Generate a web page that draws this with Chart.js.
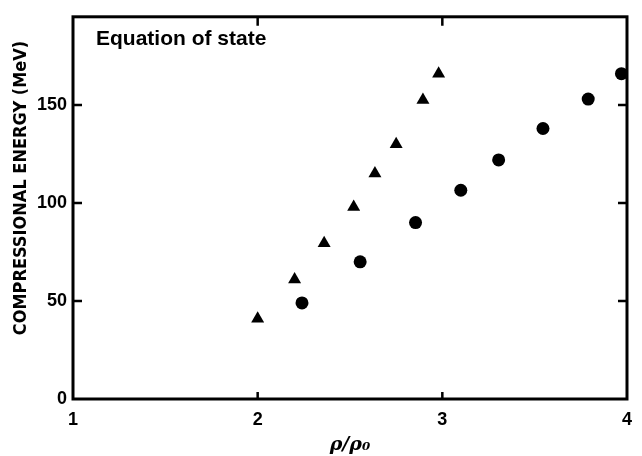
<!DOCTYPE html>
<html>
<head>
<meta charset="utf-8">
<script src="https://cdn.jsdelivr.net/npm/chart.js@4"></script>
<style>
  html, body { margin: 0; padding: 0; background: #fff; }
  #wrap { width: 642px; height: 456px; }
</style>
</head>
<body>
<div id="wrap"><canvas id="c" width="642" height="456"></canvas></div>
<script>
// Data
const triangleX = [2.00, 2.20, 2.36, 2.52, 2.635, 2.75, 2.895, 2.98];
const triangleY = [41, 61, 79.5, 98, 115, 130, 152.5, 166];
const circleX = [2.24, 2.555, 2.855, 3.10, 3.305, 3.545, 3.79, 3.97];
const circleY = [49, 70, 90, 106.5, 122, 138, 153, 166];
const xTicks = [1, 2, 3, 4];
const yTicks = [0, 50, 100, 150];
const innerXTicks = [2, 3];
const innerYTicks = [50, 100, 150];
const titleText = 'Equation of state';
const xTitle = 'ρ/ρ₀';
const yTitle = 'COMPRESSIONAL ENERGY (MeV)';

const toPts = (xs, ys) => xs.map((x, i) => ({ x: x, y: ys[i] }));

const framePlugin = {
  id: 'frame',
  afterDraw(chart) {
    const { ctx, chartArea: a, scales } = chart;
    const xs = scales.x, ys = scales.y;
    ctx.save();
    ctx.strokeStyle = '#000';
    ctx.lineWidth = 3;
    ctx.lineCap = 'square';
    ctx.strokeRect(a.left, a.top, a.right - a.left, a.bottom - a.top);
    ctx.lineWidth = 2.5;
    ctx.lineCap = 'butt';
    ctx.beginPath();
    innerXTicks.forEach(v => {
      const px = xs.getPixelForValue(v);
      ctx.moveTo(px, a.bottom); ctx.lineTo(px, a.bottom - 7);
      ctx.moveTo(px, a.top); ctx.lineTo(px, a.top + 9);
    });
    innerYTicks.forEach(v => {
      const py = ys.getPixelForValue(v);
      ctx.moveTo(a.left, py); ctx.lineTo(a.left + 9, py);
      ctx.moveTo(a.right, py); ctx.lineTo(a.right - 9, py);
    });
    ctx.stroke();
    ctx.fillStyle = '#000';
    // in-plot title
    ctx.font = 'bold 21px "Liberation Sans", Arial, sans-serif';
    ctx.textBaseline = 'middle';
    ctx.textAlign = 'left';
    ctx.fillText(titleText, a.left + 23, a.top + 22);
    // y axis title
    ctx.translate(21, 188);
    ctx.rotate(-Math.PI / 2);
    ctx.textAlign = 'center';
    ctx.font = 'bold 18px "DejaVu Sans Condensed", "DejaVu Sans", sans-serif';
    ctx.fillText(yTitle, 0, 0);
    ctx.restore();
  }
};

new Chart(document.getElementById('c'), {
  type: 'scatter',
  data: {
    datasets: [
      {
        label: 'triangles',
        data: toPts(triangleX, triangleY),
        pointStyle: 'triangle',
        pointRadius: 7.5,
        pointHoverRadius: 7.5,
        backgroundColor: '#000',
        borderColor: '#000',
        borderWidth: 0
      },
      {
        label: 'circles',
        data: toPts(circleX, circleY),
        pointStyle: 'circle',
        pointRadius: 6.5,
        pointHoverRadius: 6.5,
        backgroundColor: '#000',
        borderColor: '#000',
        borderWidth: 0
      }
    ]
  },
  options: {
    responsive: false,
    animation: false,
    devicePixelRatio: 1,
    layout: { padding: { left: 0, right: 15, top: 12, bottom: 0 } },
    plugins: {
      legend: { display: false },
      tooltip: { enabled: false },
      title: { display: false }
    },
    scales: {
      x: {
        type: 'linear',
        min: 1,
        max: 4,
        afterBuildTicks: s => { s.ticks = xTicks.map(v => ({ value: v })); },
        afterFit: s => { s.height = 57; },
        grid: { display: false, drawTicks: false },
        border: { display: false },
        ticks: {
          padding: 10,
          color: '#000',
          font: { family: '"Liberation Sans", Arial, sans-serif', size: 18, weight: 'bold' },
          maxRotation: 0
        },
        title: {
          display: true,
          text: xTitle,
          color: '#000',
          padding: { top: 0, bottom: 0 },
          font: { family: '"DejaVu Serif", serif', size: 19, weight: 'bold', style: 'italic' }
        }
      },
      y: {
        type: 'linear',
        min: 0,
        max: 195,
        afterBuildTicks: s => { s.ticks = yTicks.map(v => ({ value: v })); },
        afterFit: s => { s.width = 73; },
        grid: { display: false, drawTicks: false },
        border: { display: false },
        ticks: {
          padding: 6,
          color: '#000',
          font: { family: '"Liberation Sans", Arial, sans-serif', size: 18, weight: 'bold' }
        },
        title: { display: false }
      }
    }
  },
  plugins: [framePlugin]
});
</script>
</body>
</html>
